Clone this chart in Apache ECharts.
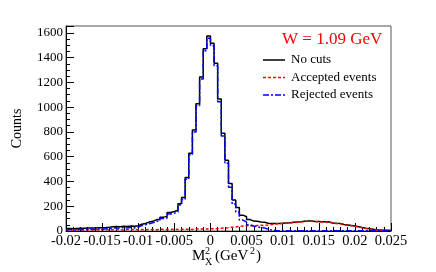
<!DOCTYPE html>
<html><head><meta charset="utf-8">
<script src="https://cdn.jsdelivr.net/npm/echarts@6/dist/echarts.min.js"></script>
<style>html,body{margin:0;padding:0;background:#fff}#c{width:436px;height:272px}</style>
</head><body><div id="c"></div>
<script>
// Histogram definition: 90 bins from -0.02 to 0.025
const xMin = -0.02;
const binWidth = 0.0005;
const xTicks = [-0.02, -0.015, -0.01, -0.005, 0, 0.005, 0.01, 0.015, 0.02, 0.025];
const yTicks = [0, 200, 400, 600, 800, 1000, 1200, 1400, 1600];
const seriesNames = ['No cuts', 'Accepted events', 'Rejected events'];
const seriesColors = ['#000000', '#ff0000', '#0000ff'];

const noCuts = [
  20,18,20,22,22,24,25,24,26,27,
  28,30,34,36,35,38,37,40,38,42,
  55,60,72,78,90,95,112,118,150,158,
  167,221,270,432,627,816,1027,1244,1472,1575,
  1515,1355,1065,790,572,383,250,190,128,115,
  92,80,78,72,70,62,60,60,60,62,
  64,66,70,72,74,78,80,80,76,76,
  75,74,72,65,62,60,52,48,44,40,
  35,28,22,18,14,10,8,6,6,5
];
const accepted = [
  10,9,11,8,12,10,9,11,10,12,
  9,11,10,12,11,9,12,10,13,11,
  12,10,13,12,11,14,12,13,12,14,
  13,12,15,14,13,16,15,17,16,18,
  18,20,22,24,26,30,33,36,40,42,
  42,40,44,46,45,48,52,56,58,60,
  62,64,68,70,72,76,78,78,74,74,
  73,72,70,63,60,58,50,46,42,38,
  33,26,20,16,12,8,6,4,4,3
];
const rejected = [
  10,9,9,14,10,14,16,13,16,15,
  19,19,24,24,24,29,25,30,25,31,
  43,50,59,66,79,81,100,105,138,144,
  154,209,255,418,614,800,1012,1227,1456,1557,
  1497,1335,1043,766,546,353,217,154,88,73,
  50,40,34,26,25,14,8,4,2,2,
  2,2,2,2,2,2,2,2,2,2,
  2,2,2,1,2,2,2,2,2,2,
  2,2,2,2,2,2,2,2,2,2
];

function histData(vals){
  const d = vals.map((v,k)=>[xMin + k*binWidth, v]);
  d.push([xMin + vals.length*binWidth, vals[vals.length-1]]);
  return d;
}

const serif = 'Liberation Serif';
const dashes = [null, [3,2], [6,2,2,2]];
const legendGraphics = [];
seriesNames.forEach((n,i)=>{
  const y = 60 + i*17.5;
  legendGraphics.push({type:'line', shape:{x1:263, y1:y, x2:285, y2:y},
    style:{stroke:seriesColors[i], lineWidth:1.5, lineDash:dashes[i]}});
  legendGraphics.push({type:'text', x:291, y:y,
    style:{text:n, font:'13px "Liberation Serif"', fill:'#000', textVerticalAlign:'middle', verticalAlign:'middle'}});
});

const chart = echarts.init(document.getElementById('c'), null, {renderer:'canvas'});
chart.setOption({
  animation:false,
  backgroundColor:'#fff',
  title:{text:'W = 1.09 GeV', left:282, top:31, padding:0,
    textStyle:{color:'#ff0000', fontFamily:serif, fontSize:17, fontWeight:'normal'}},
  grid:{left:66, right:45, top:26, bottom:41, show:true, borderColor:'#555', borderWidth:1},
  xAxis:{type:'value', min:xTicks[0], max:xTicks[xTicks.length-1], interval:0.005,
    axisLine:{show:true, onZero:false, lineStyle:{color:'#000'}},
    axisTick:{inside:true, length:8, lineStyle:{color:'#000'}},
    minorTick:{show:true, splitNumber:5, length:4, lineStyle:{color:'#000'}},
    splitLine:{show:false},
    axisLabel:{fontFamily:serif, fontSize:14.5, color:'#000', margin:3,
      formatter:v=>String(parseFloat(v.toFixed(4)))}},
  yAxis:{type:'value', min:0, max:1655, interval:200,
    axisLine:{show:true, onZero:false, lineStyle:{color:'#000'}},
    axisTick:{inside:true, length:8, lineStyle:{color:'#000'}},
    minorTick:{show:true, splitNumber:4, length:4, lineStyle:{color:'#000'}},
    splitLine:{show:false},
    axisLabel:{fontFamily:serif, fontSize:13, color:'#000', margin:3, showMaxLabel:false,
      formatter:v=>yTicks.indexOf(v)>=0?String(v):''},
    name:'Counts', nameLocation:'middle', nameGap:42, nameRotate:90,
    nameTextStyle:{fontFamily:serif, fontSize:14, color:'#000'}},
  graphic:[
    {type:'text', x:192, y:249, style:{text:'M', font:'15px "Liberation Serif"', fill:'#000'}},
    {type:'text', x:205, y:246, style:{text:'2', font:'10px "Liberation Serif"', fill:'#000'}},
    {type:'text', x:205, y:257, style:{text:'X', font:'10px "Liberation Serif"', fill:'#000'}},
    {type:'text', x:215, y:249, style:{text:'(GeV', font:'15px "Liberation Serif"', fill:'#000'}},
    {type:'text', x:250, y:246, style:{text:'2', font:'10px "Liberation Serif"', fill:'#000'}},
    {type:'text', x:256, y:249, style:{text:')', font:'15px "Liberation Serif"', fill:'#000'}}
  ].concat(legendGraphics),
  series:seriesNames.map((n,i)=>({
    name:n, type:'line', step:'end', symbol:'none',
    data:histData([noCuts, accepted, rejected][i]),
    color:seriesColors[i],
    lineStyle:{color:seriesColors[i], width:1.5, type:dashes[i] || 'solid'}
  }))
});
</script></body></html>
